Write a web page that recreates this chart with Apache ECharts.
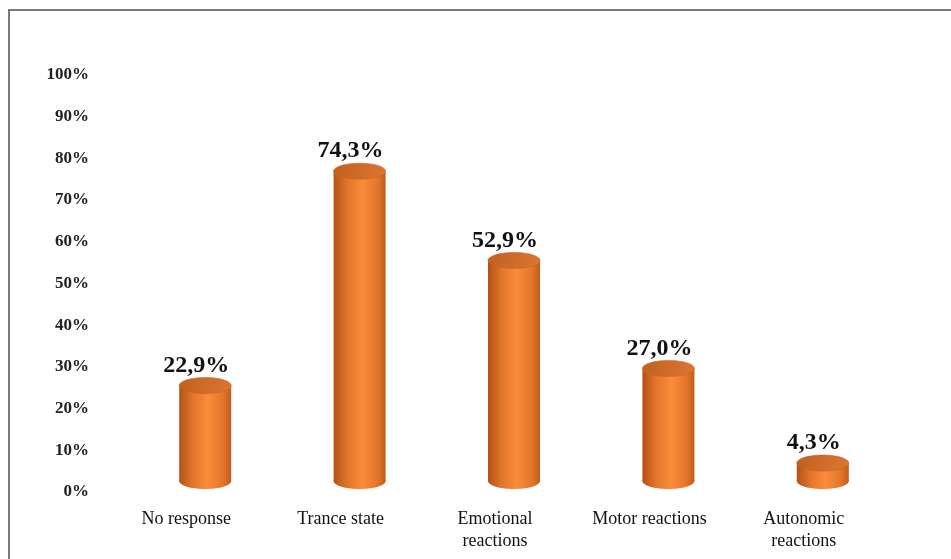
<!DOCTYPE html>
<html>
<head>
<meta charset="utf-8">
<script src="https://cdn.jsdelivr.net/npm/echarts@6/dist/echarts.min.js"></script>
<style>
html,body{margin:0;padding:0;background:#fff;}
#frame{position:absolute;left:8px;top:9px;width:960px;height:600px;border-left:2px solid #7a7a7a;border-top:2px solid #7a7a7a;}
#chart{position:absolute;left:0;top:0;width:951px;height:559px;}
</style>
</head>
<body>
<div id="frame"></div>
<div id="chart"></div>
<script>
const categories = ['No response', 'Trance state', 'Emotional\nreactions', 'Motor reactions', 'Autonomic\nreactions'];
const values = [22.9, 74.3, 52.9, 27.0, 4.3];
const yTicks = [0, 10, 20, 30, 40, 50, 60, 70, 80, 90, 100];

const chart = echarts.init(document.getElementById('chart'), null, {renderer: 'canvas'});

const bodyGrad = new echarts.graphic.LinearGradient(0, 0, 1, 0, [
  {offset: 0, color: '#b35216'},
  {offset: 0.25, color: '#e0742a'},
  {offset: 0.55, color: '#fb8c3a'},
  {offset: 0.85, color: '#e3752b'},
  {offset: 1, color: '#bf5c1d'}
]);
const topGrad = new echarts.graphic.LinearGradient(0, 0, 1, 1, [
  {offset: 0, color: '#c0601f'},
  {offset: 1, color: '#dc7732'}
]);

chart.setOption({
  animation: false,
  grid: {left: 109, right: 70, top: 75, bottom: 67},
  xAxis: {
    type: 'category',
    data: categories,
    axisLine: {show: false},
    axisTick: {show: false},
    axisLabel: {
      margin: 16,
      fontFamily: 'Liberation Serif',
      fontSize: 18,
      color: '#111',
      lineHeight: 22,
      interval: 0
    }
  },
  yAxis: {
    type: 'value',
    min: 0,
    max: 100,
    interval: 10,
    splitLine: {show: false},
    axisLine: {show: false},
    axisTick: {show: false},
    axisLabel: {
      margin: 20,
      fontFamily: 'Liberation Serif',
      fontWeight: 'bold',
      fontSize: 17,
      color: '#222',
      formatter: v => yTicks.includes(v) ? v + '%' : ''
    }
  },
  series: [{
    type: 'custom',
    data: values.map((v, i) => [i, v]),
    renderItem: function (params, api) {
      const idx = api.value(0);
      const val = api.value(1);
      const base = api.coord([idx, 0]);
      const top = api.coord([idx, val]);
      const dx = 19, dy = -11, hw = 26, ry = 8;
      const cx = top[0] + dx;
      const yTop = top[1] + dy;
      const yBot = base[1] + dy;
      return {
        type: 'group',
        children: [
          {type: 'ellipse', shape: {cx: cx, cy: yBot, rx: hw, ry: ry}, style: {fill: bodyGrad}},
          {type: 'rect', shape: {x: cx - hw, y: yTop, width: hw * 2, height: yBot - yTop}, style: {fill: bodyGrad}},
          {type: 'ellipse', shape: {cx: cx, cy: yTop, rx: hw, ry: ry}, style: {fill: topGrad, stroke: '#c86424', lineWidth: 0.6}},
          {type: 'text', style: {
            text: val.toFixed(1).replace('.', ',') + '%',
            x: cx - 9, y: yTop - ry - 12,
            align: 'center', verticalAlign: 'middle',
            font: 'bold 24px "Liberation Serif"',
            fill: '#111'
          }}
        ]
      };
    }
  }]
});
</script>
</body>
</html>
